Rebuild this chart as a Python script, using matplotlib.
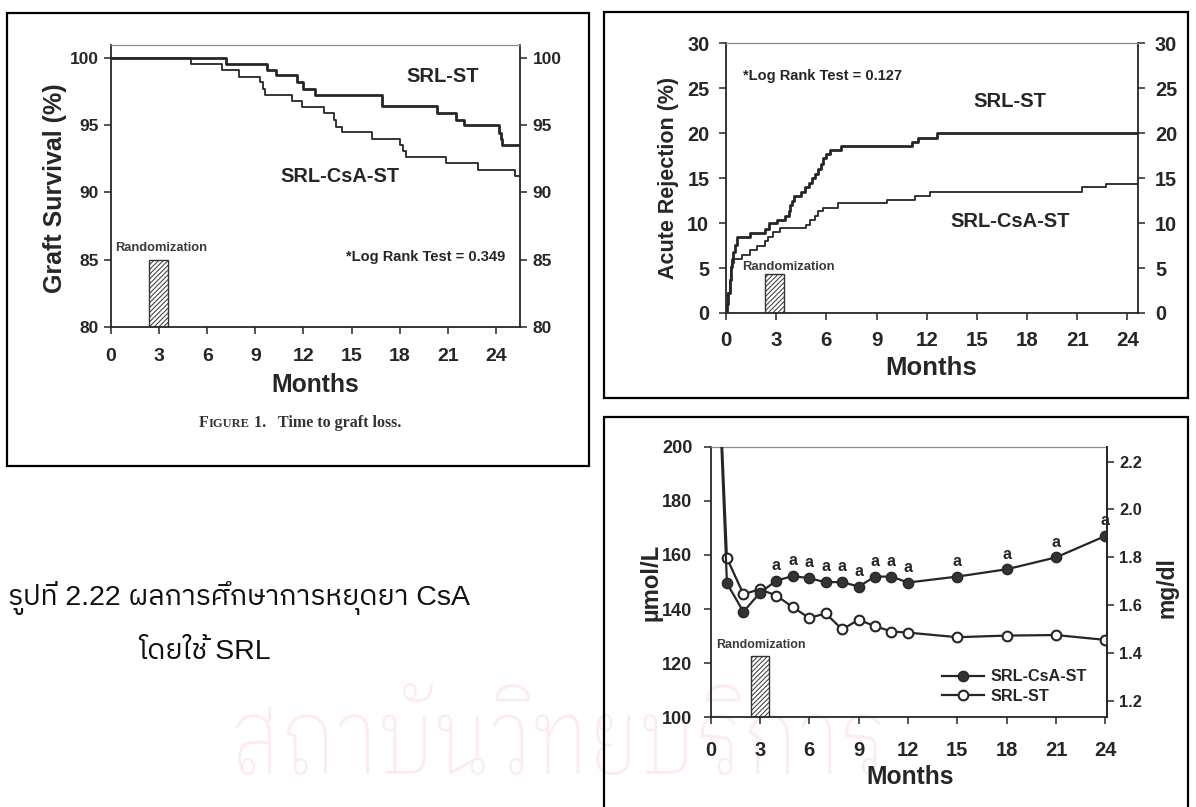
import matplotlib
matplotlib.use("Agg")
import matplotlib.pyplot as plt
from matplotlib import font_manager
from matplotlib.ft2font import FT2Font
from matplotlib.patches import Rectangle, PathPatch
from matplotlib.textpath import TextPath
from matplotlib.font_manager import FontProperties
from matplotlib.transforms import Affine2D
from matplotlib.offsetbox import TextArea, HPacker, AnnotationBbox
from matplotlib.lines import Line2D
from matplotlib.ticker import FormatStrFormatter

# ---------------- data ----------------
# Graft survival (%), Kaplan-Meier step changes (months)
gs_st_t = [0, 7.2, 9.7, 10.3, 11.6, 12.0, 12.7, 16.9, 20.3, 21.5, 22.0, 24.2, 24.3, 24.4]
gs_st_v = [100, 99.55, 99.1, 98.7, 98.2, 97.7, 97.25, 96.4, 95.9, 95.4, 95.0, 94.4, 94.0, 93.5]
gs_csa_t = [0, 5.0, 6.9, 7.95, 9.3, 9.45, 9.6, 11.3, 11.9, 13.25, 13.9, 14.05, 14.4,
            16.3, 18.0, 18.2, 18.4, 20.9, 22.9, 25.2]
gs_csa_v = [100, 99.55, 99.1, 98.6, 98.2, 97.7, 97.25, 96.8, 96.35, 95.9, 95.4, 94.9, 94.5,
            94.0, 93.5, 93.1, 92.65, 92.2, 91.7, 91.2]

# Cumulative acute rejection (%)
ar_st_t = [0, 0.07, 0.14, 0.21, 0.28, 0.36, 0.44, 0.54, 0.64, 1.45, 2.35, 2.55, 3.05, 3.5,
           3.75, 3.85, 3.95, 4.05, 4.5, 4.75, 4.95, 5.15, 5.35, 5.5, 5.65, 5.8, 5.95, 6.2,
           6.85, 11.1, 11.5, 12.6]
ar_st_v = [0, 1.0, 2.2, 3.7, 5.1, 6.0, 6.8, 7.6, 8.45, 8.85, 9.3, 10.0, 10.3, 10.8,
           11.4, 12.0, 12.5, 13.0, 13.5, 14.0, 14.5, 15.0, 15.5, 16.0, 16.6, 17.2, 17.7, 18.1,
           18.55, 19.0, 19.5, 20.0]
ar_csa_t = [0, 0.07, 0.14, 0.21, 0.28, 0.38, 0.5, 0.95, 1.43, 1.83, 2.33, 2.5, 2.8, 3.2,
            4.8, 5.0, 5.3, 5.5, 5.8, 6.7, 9.6, 11.3, 12.2, 21.3, 22.7]
ar_csa_v = [0, 1.0, 2.2, 3.7, 5.1, 5.6, 6.0, 6.5, 7.0, 7.5, 8.0, 8.5, 9.0, 9.4,
            9.8, 10.3, 10.8, 11.3, 11.7, 12.2, 12.6, 13.0, 13.5, 14.0, 14.4]

# Serum creatinine (umol/L) by visit month
cr_months = [0, 1, 2, 3, 4, 5, 6, 7, 8, 9, 10, 11, 12, 15, 18, 21, 24]
cr_csa = [300, 149.5, 139.0, 146.0, 150.5, 152.2, 151.4, 149.9, 150.0, 148.3, 152.0,
          152.0, 149.8, 152.0, 154.7, 159.1, 167.0]
cr_st = [300, 158.8, 145.5, 147.3, 145.0, 140.7, 136.7, 138.4, 132.5, 136.0, 133.7,
         131.7, 131.3, 129.6, 130.2, 130.4, 128.6]
cr_sig_months = [4, 5, 6, 7, 8, 9, 10, 11, 12, 15, 18, 21, 24]
UMOL_PER_MGDL = 88.4

month_ticks = [0, 3, 6, 9, 12, 15, 18, 21, 24]
rand_label = "Randomization"

# ---------------- fonts ----------------
def thai_families():
    found = []
    for fe in font_manager.fontManager.ttflist:
        try:
            if 0x0E23 in FT2Font(fe.fname).get_charmap() and fe.name not in found:
                found.append(fe.name)
        except Exception:
            continue
    return found


_thai = thai_families()
THAI = next((n for n in _thai if "Sans" in n and "Looped" not in n),
            _thai[0] if _thai else "DejaVu Sans")
THAI_WM = next((n for n in _thai if "Looped" in n), THAI)

plt.rcParams["font.family"] = ["Liberation Sans", THAI, "DejaVu Sans"]
plt.rcParams["font.weight"] = "bold"
plt.rcParams["hatch.linewidth"] = 0.7

INK = "#262626"
W, H = 1196, 807
fig = plt.figure(figsize=(W / 100, H / 100), dpi=100)
fig.patch.set_facecolor("white")


def fx(x):
    return x / W


def fy(y):
    return 1 - y / H


def rect(x0, y0, x1, y1):
    return [fx(x0), fy(y1), (x1 - x0) / W, (y1 - y0) / H]


def ftext(x, y, s, **kw):
    kw.setdefault("ha", "center")
    kw.setdefault("va", "center")
    kw.setdefault("color", INK)
    kw.setdefault("fontweight", "bold")
    return fig.text(fx(x), fy(y), s, **kw)


# faint institutional watermark behind everything
wm = TextPath((0, 0), "สถาบันวิทยบริการ", size=1,
              prop=FontProperties(family=THAI_WM, weight="light"))
ext = wm.get_extents()
sx = (880 - 236) / W / ext.width
sy = (775 - 683) / H / ext.height
wm_tr = Affine2D().translate(-ext.x0, -ext.y0).scale(sx, sy).translate(fx(236), fy(775))
fig.add_artist(PathPatch(wm, transform=wm_tr + fig.transFigure, facecolor="#fdebf1",
                         edgecolor="none", zorder=-5))

# panel frames
for (x0, y0, x1, y1) in [(7, 13, 589, 466), (604, 12, 1188, 398), (604, 417, 1188, 830)]:
    fig.add_artist(Rectangle((fx(x0), fy(y1)), (x1 - x0) / W, (y1 - y0) / H,
                             transform=fig.transFigure, fill=False, lw=1.6,
                             edgecolor="black", zorder=1))


def style_axes(ax, tick_size, xtick_size, ypad, xpad):
    for s in ["left", "bottom", "right"]:
        ax.spines[s].set_color(INK)
        ax.spines[s].set_linewidth(1.3)
    ax.spines["top"].set_color("#8c8c8c")
    ax.spines["top"].set_linewidth(0.9)
    ax.tick_params(axis="both", direction="out", length=5, width=1.1, color=INK,
                   labelcolor=INK)
    ax.tick_params(axis="y", labelsize=tick_size, pad=ypad)
    ax.tick_params(axis="x", labelsize=xtick_size, pad=xpad)
    ax.set_xticks(month_ticks)
    ax.patch.set_alpha(0)


# ---------------- panel 1: graft survival ----------------
X1MAX = 25.5
ax1 = fig.add_axes(rect(111, 44.5, 520, 327))
ax1.step(gs_st_t + [X1MAX], gs_st_v + [gs_st_v[-1]], where="post", color=INK, lw=2.0)
ax1.step(gs_csa_t + [X1MAX], gs_csa_v + [gs_csa_v[-1]], where="post", color=INK, lw=1.3)
ax1.bar(2.96, 5, width=1.24, bottom=80, fill=False, hatch="///////", edgecolor="#333333",
        lw=1.0)
ax1.set_xlim(0, X1MAX)
ax1.set_ylim(80, 101)
ax1.set_yticks([80, 85, 90, 95, 100])
style_axes(ax1, 12.5, 14, 4, 10)
ax1.tick_params(axis="y", right=True, labelright=True)
ax1.text(20.65, 98.6, "SRL-ST", ha="center", va="center", fontsize=14.5, color=INK)
ax1.text(14.3, 91.2, "SRL-CsA-ST", ha="center", va="center", fontsize=14.4, color=INK)
ax1.text(19.6, 85.2, "*Log Rank Test = 0.349", ha="center", va="center", fontsize=10.5,
         color=INK)
ax1.text(3.15, 85.85, rand_label, ha="center", va="center", fontsize=9.3, color="#3a3a3a")
ftext(55.5, 188, "Graft Survival (%)", rotation=90, fontsize=18)
ftext(315.7, 385, "Months", fontsize=17.8)

cap = HPacker(children=[
    TextArea("F", textprops=dict(family="Liberation Serif", fontweight="bold", size=11.5,
                                 color="#333333")),
    TextArea("IGURE", textprops=dict(family="Liberation Serif", fontweight="bold", size=9,
                                     color="#333333")),
    TextArea(" 1.   Time to graft loss.", textprops=dict(family="Liberation Serif",
                                                         fontweight="bold", size=11.5,
                                                         color="#333333")),
], align="baseline", pad=0, sep=0)
fig.add_artist(AnnotationBbox(cap, (fx(300), fy(423)), xycoords="figure fraction",
                              frameon=False, box_alignment=(0.5, 0.5)))

# ---------------- panel 2: acute rejection ----------------
X2MAX = 24.65
ax2 = fig.add_axes(rect(726, 43.3, 1138.3, 313))
ax2.step(ar_st_t + [X2MAX], ar_st_v + [ar_st_v[-1]], where="post", color=INK, lw=2.0)
ax2.step(ar_csa_t + [X2MAX], ar_csa_v + [ar_csa_v[-1]], where="post", color=INK, lw=1.3)
ax2.bar(2.91, 4.3, width=1.16, bottom=0, fill=False, hatch="///////", edgecolor="#333333",
        lw=1.0)
ax2.set_xlim(0, X2MAX)
ax2.set_ylim(0, 30)
ax2.set_yticks([0, 5, 10, 15, 20, 25, 30])
style_axes(ax2, 14.3, 14.8, 7, 8)
ax2.tick_params(axis="y", right=True, labelright=True)
ax2.text(17.0, 23.5, "SRL-ST", ha="center", va="center", fontsize=14.6, color=INK)
ax2.text(17.0, 10.15, "SRL-CsA-ST", ha="center", va="center", fontsize=14.5, color=INK)
ax2.text(5.78, 26.4, "*Log Rank Test = 0.127", ha="center", va="center", fontsize=10.5,
         color=INK)
ax2.text(3.7, 5.08, rand_label, ha="center", va="center", fontsize=9.4, color="#3a3a3a")
ftext(668.4, 177.5, "Acute Rejection (%)", rotation=90, fontsize=15.5)
ftext(930.8, 368.3, "Months", fontsize=18.5)

# ---------------- panel 3: serum creatinine ----------------
X3MAX = 24.1
ax3 = fig.add_axes(rect(710.5, 446.7, 1107, 717.3))
ax3.bar(3.01, 22.7, width=1.13, bottom=100, fill=False, hatch="///////",
        edgecolor="#333333", lw=1.0)
ax3.plot(cr_months, cr_st, "-o", color=INK, lw=1.6, ms=7.0, mfc="white", mec=INK, mew=1.5,
         zorder=3)
ax3.plot(cr_months, cr_csa, "-o", color=INK, lw=1.6, ms=7.4, mfc="#333333", mec=INK,
         mew=1.0, zorder=4)
for m in cr_sig_months:
    v = cr_csa[cr_months.index(m)]
    ax3.annotate("a", (m, v), xytext=(0, 11), textcoords="offset points", ha="center",
                 va="center", fontsize=11.5, color=INK)
ax3.set_xlim(0, X3MAX)
ax3.set_ylim(100, 200)
ax3.set_yticks([100, 120, 140, 160, 180, 200])
style_axes(ax3, 13.1, 14.5, 8, 12)
ax3.text(0.37, 126.7, rand_label, ha="left", va="center", fontsize=8.9, color="#3a3a3a")

ax3r = ax3.twinx()
ax3r.set_ylim(100 / UMOL_PER_MGDL, 200 / UMOL_PER_MGDL)
ax3r.set_yticks([1.2, 1.4, 1.6, 1.8, 2.0, 2.2])
ax3r.yaxis.set_major_formatter(FormatStrFormatter("%.1f"))
ax3r.tick_params(axis="y", direction="out", length=5, width=1.1, color=INK,
                 labelcolor=INK, labelsize=11.8, pad=4)
for s in ax3r.spines.values():
    s.set_visible(False)
ax3r.spines["right"].set_visible(True)
ax3r.spines["right"].set_color(INK)
ax3r.spines["right"].set_linewidth(1.3)

handles = [
    Line2D([], [], color=INK, lw=1.6, marker="o", ms=7.4, mfc="#333333", mec=INK),
    Line2D([], [], color=INK, lw=1.6, marker="o", ms=7.0, mfc="white", mec=INK, mew=1.5),
]
ax3.legend(handles, ["SRL-CsA-ST", "SRL-ST"], loc="center left",
           bbox_to_anchor=((934 - 710.5) / 396.5, (717.3 - 686.5) / 270.6),
           frameon=False, fontsize=11.7, handlelength=2.6, handletextpad=0.4,
           labelspacing=0.25, borderpad=0, labelcolor=INK)
ftext(651.3, 582.3, "µmol/L", rotation=90, fontsize=17.2)
ftext(1166.6, 588, "mg/dl", rotation=90, fontsize=16.5)
ftext(909.9, 776.7, "Months", fontsize=17.7)

# ---------------- Thai caption ----------------
ftext(8, 598, "รูปที่ 2.22 ผลการศึกษาการหยุดยา CsA", ha="left", fontsize=20.5,
      fontweight="normal", color="#111111")
ftext(138, 652, "โดยใช้ SRL", ha="left", fontsize=20.5, fontweight="normal",
      color="#111111")

fig.savefig("out.png", dpi=100)
